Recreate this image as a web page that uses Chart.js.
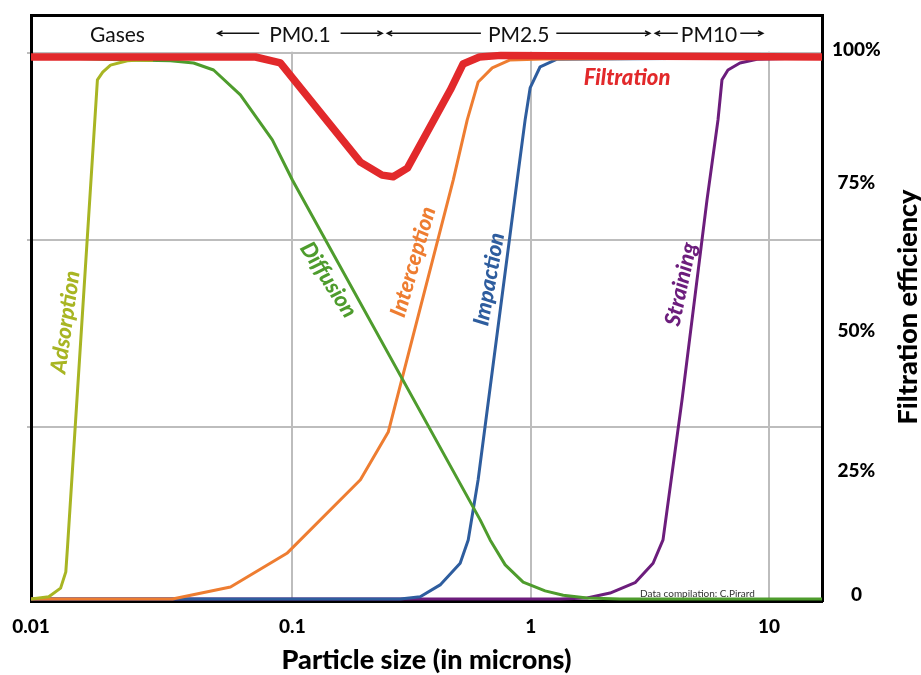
<!DOCTYPE html>
<html><head><meta charset="utf-8">
<script src="https://cdn.jsdelivr.net/npm/chart.js@4.4.1/dist/chart.umd.min.js"></script>
<style>html,body{margin:0;padding:0;background:#fff;}canvas{display:block;}</style>
</head><body>
<canvas id="c" width="921" height="675"></canvas>
<script>
// ---- data (particle size in microns, efficiency in %) ----
const filtrationX   = [0.008, 0.070, 0.089, 0.193, 0.238, 0.265, 0.304, 0.46, 0.52, 0.61, 0.75, 2.0, 16.7];
const filtrationY   = [100, 100, 98.9, 80.6, 78.2, 77.9, 79.5, 93.9, 98.7, 100, 100.3, 100.2, 100];
const adsorptionX   = [0.008, 0.0095, 0.01065, 0.0112, 0.0114, 0.0152, 0.016, 0.01725, 0.0203, 0.023, 0.026];
const adsorptionY   = [0, 0.4, 2.0, 5.0, 10.0, 95.8, 97.2, 98.5, 99.3, 99.45, 99.4];
const diffusionX    = [0.008, 0.019, 0.0308, 0.0385, 0.0467, 0.0605, 0.0824, 0.1, 0.614, 0.676, 0.782, 0.93, 1.15, 1.37, 1.725, 2.37, 16.7];
const diffusionY    = [100, 99.5, 99.3, 98.9, 97.6, 93.0, 84.7, 77.3, 14.6, 10.9, 6.3, 3.1, 1.5, 0.7, 0.2, 0, 0];
const interceptionX = [0.008, 0.0314, 0.055, 0.0953, 0.193, 0.2526, 0.4732, 0.5418, 0.6023, 0.69, 0.82, 1.13, 16.7];
const interceptionY = [0, 0, 2.2, 8.5, 22.0, 30.8, 77.3, 88.4, 95.4, 98.0, 99.45, 99.65, 99.9];
const impactionX    = [0.008, 0.284, 0.344, 0.417, 0.506, 0.547, 0.602, 0.878, 0.948, 0.995, 1.096, 1.29, 16.7];
const impactionY    = [0, 0, 0.4, 2.6, 6.6, 10.9, 22.0, 77.3, 88.4, 94.3, 98.2, 99.6, 99.9];
const strainingX    = [0.008, 1.33, 1.725, 2.154, 2.743, 3.264, 3.593, 4.317, 5.495, 6.113, 6.353, 6.731, 7.556, 8.907, 16.7];
const strainingY    = [0, 0, 0.2, 1.1, 3.0, 6.6, 10.9, 36.7, 73.6, 88.4, 95.8, 97.6, 98.9, 99.6, 99.9];

// axis ticks
const xTickValues = [0.008, 0.1, 1, 10];
const xTickLabels = ['0.01', '0.1', '1', '10'];
const rightTickValues = [0.7, 23.6, 49.4, 76.8, 101.3];
const rightTickLabels = ['0', '25%', '50%', '75%', '100%'];
const gridValues = [31.7, 66.2, 100.7];

// annotations (positions in data units)
const curveLabels = ['Adsorption', 'Diffusion', 'Interception', 'Impaction', 'Straining', 'Filtration'];
const curveLabelX = [0.01117, 0.1416, 0.3215, 0.670, 4.276, 2.539];
const curveLabelY = [51.1, 58.9, 62.2, 59.0, 58.1, 96.1];
const curveLabelAngle = [-82, 57, -74, -80, -78, 0];
const rangeLabels = ['PM0.1', 'PM2.5', 'PM10'];
const rangeFrom = [0.0485, 0.250, 3.33];
const rangeTo = [0.2385, 3.17, 9.44];
const rangeGap = [10, 7, 3];
const rangeY = 104.0;
const gasesLabel = 'Gases';
const gasesX = 0.01845;
const creditText = 'Data compilation: C.Pirard';
const creditX = 2.878, creditY = 0.9;

const C = {
  filtration: '#e2292b', adsorption: '#a8b523', diffusion: '#4e9c2d',
  interception: '#ee7d31', impaction: '#2e5d9e', straining: '#6c1d7c'
};
const labelColors = [C.adsorption, C.diffusion, C.interception, C.impaction, C.straining, C.filtration];

const pts = (xs, ys) => xs.map((x, i) => ({x: x, y: ys[i]}));
Chart.defaults.font.family = 'Lato';

const annotate = {
  id: 'annotate',
  beforeDatasetsDraw(chart) {
    const {ctx, chartArea: a, scales: {x, y}} = chart;
    ctx.save();
    const yTop = y.getPixelForValue(gridValues[gridValues.length - 1]);
    ctx.fillStyle = '#fff';
    ctx.fillRect(a.left + 2, a.top + 2, a.right - a.left - 4, yTop - 1.5 - a.top - 2);
    ctx.font = '10px Lato';
    ctx.fillStyle = '#333';
    ctx.textAlign = 'left';
    ctx.textBaseline = 'middle';
    ctx.fillText(creditText, x.getPixelForValue(creditX), y.getPixelForValue(creditY));
    ctx.restore();
  },
  afterDatasetsDraw(chart) {
    const {ctx, scales: {x, y}} = chart;
    ctx.save();
    const ty = y.getPixelForValue(rangeY);
    ctx.font = '21px Lato';
    ctx.fillStyle = '#111';
    ctx.strokeStyle = '#111';
    ctx.lineWidth = 1.4;
    ctx.textAlign = 'center';
    ctx.textBaseline = 'middle';
    ctx.fillText(gasesLabel, x.getPixelForValue(gasesX), ty);
    const ay = ty - 2;
    rangeLabels.forEach((lab, i) => {
      const x1 = x.getPixelForValue(rangeFrom[i]);
      const x2 = x.getPixelForValue(rangeTo[i]);
      const cx = (x1 + x2) / 2;
      const w = ctx.measureText(lab).width;
      ctx.fillText(lab, cx, ty);
      const g = rangeGap[i];
      ctx.beginPath();
      ctx.moveTo(x1, ay); ctx.lineTo(cx - w / 2 - g, ay);
      ctx.moveTo(cx + w / 2 + g, ay); ctx.lineTo(x2, ay);
      ctx.moveTo(x1 + 5, ay - 2.5); ctx.lineTo(x1, ay); ctx.lineTo(x1 + 5, ay + 2.5);
      ctx.moveTo(x2 - 5, ay - 2.5); ctx.lineTo(x2, ay); ctx.lineTo(x2 - 5, ay + 2.5);
      ctx.stroke();
    });
    ctx.font = 'italic 900 22px Lato';
    curveLabels.forEach((lab, i) => {
      ctx.save();
      ctx.translate(x.getPixelForValue(curveLabelX[i]), y.getPixelForValue(curveLabelY[i]));
      ctx.rotate(curveLabelAngle[i] * Math.PI / 180);
      ctx.fillStyle = labelColors[i];
      ctx.fillText(lab, 0, 0);
      ctx.restore();
    });
    ctx.restore();
  },
  afterDraw(chart) {
    const {ctx} = chart;
    ctx.save();
    ctx.translate(908, 307);
    ctx.rotate(-Math.PI / 2);
    ctx.font = '900 27px Lato';
    ctx.fillStyle = '#000';
    ctx.textAlign = 'center';
    ctx.textBaseline = 'middle';
    ctx.fillText('Filtration efficiency', 0, 0);
    ctx.restore();
  }
};

const ds = (label, xs, ys, color, width) => ({
  label: label, data: pts(xs, ys), borderColor: color, borderWidth: width,
  pointRadius: 0, tension: 0, fill: false, borderJoinStyle: 'round', xAxisID: 'x', yAxisID: 'y'
});
const noPad = s => { s.paddingTop = 0; s.paddingBottom = 0; s.paddingLeft = 0; s.paddingRight = 0; };

new Chart(document.getElementById('c'), {
  type: 'line',
  data: {
    datasets: [
      ds('Filtration', filtrationX, filtrationY, C.filtration, 7.5),
      ds('Adsorption', adsorptionX, adsorptionY, C.adsorption, 3),
      ds('Diffusion', diffusionX, diffusionY, C.diffusion, 3),
      ds('Interception', interceptionX, interceptionY, C.interception, 3),
      ds('Impaction', impactionX, impactionY, C.impaction, 3),
      ds('Straining', strainingX, strainingY, C.straining, 3)
    ]
  },
  options: {
    responsive: false,
    animation: false,
    layout: {padding: 0},
    plugins: {legend: {display: false}, tooltip: {enabled: false}},
    scales: {
      x: {
        type: 'logarithmic', position: 'bottom', min: 0.008, max: 16.7,
        afterBuildTicks: s => { s.ticks = xTickValues.map(v => ({value: v})); },
        afterFit: s => { s.height = 74; noPad(s); },
        ticks: {callback: (v, i) => xTickLabels[i], font: {size: 19, weight: '900'}, color: '#000', padding: 14, maxRotation: 0, autoSkip: false},
        grid: {color: '#bdbdbd', lineWidth: 2, drawTicks: false},
        border: {display: true, color: '#000', width: 3},
        title: {display: true, text: 'Particle size (in microns)', font: {size: 27, weight: '900'}, color: '#000', padding: {top: 0, bottom: -1}}
      },
      xt: {
        type: 'linear', position: 'top', min: 0, max: 1,
        afterFit: s => { s.height = 15; noPad(s); },
        ticks: {display: false},
        grid: {drawOnChartArea: false, drawTicks: false},
        border: {display: true, color: '#000', width: 3}
      },
      y: {
        type: 'linear', position: 'left', min: -0.37, max: 107.75,
        afterBuildTicks: s => { s.ticks = gridValues.map(v => ({value: v})); },
        afterFit: s => { s.width = 31; noPad(s); },
        ticks: {display: false},
        grid: {color: '#bdbdbd', lineWidth: 2, drawTicks: true, tickLength: 4},
        border: {display: true, color: '#000', width: 3}
      },
      yr: {
        type: 'linear', position: 'right', min: -0.37, max: 107.75,
        afterBuildTicks: s => { s.ticks = rightTickValues.map(v => ({value: v})); },
        afterFit: s => { s.width = 99; noPad(s); },
        ticks: {callback: (v, i) => rightTickLabels[i], font: {size: 19, weight: '900'}, color: '#000', padding: 10, crossAlign: 'center', autoSkip: false},
        grid: {drawOnChartArea: false, drawTicks: false},
        border: {display: true, color: '#000', width: 3}
      }
    }
  },
  plugins: [annotate]
});
</script>
</body></html>
